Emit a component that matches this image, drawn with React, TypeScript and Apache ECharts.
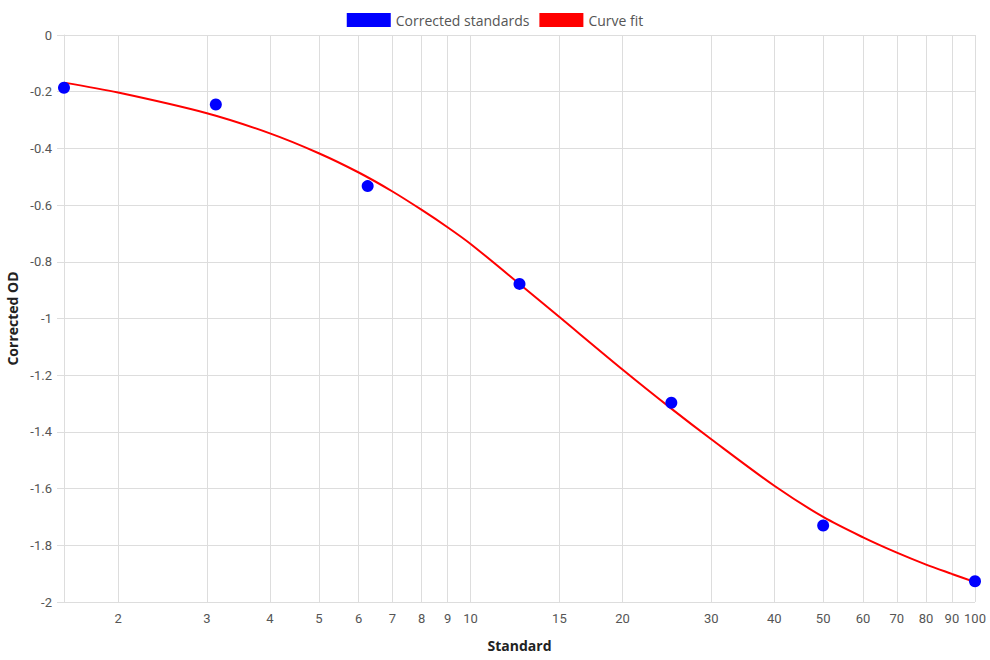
import React, { useEffect, useRef } from "react";
import * as echarts from "echarts";

const standards = [1.5625, 3.125, 6.25, 12.5, 25, 50, 100];
const correctedOD = [-0.186, -0.245, -0.533, -0.878, -1.297, -1.73, -1.927];

const fitX = [1.5625, 2, 3, 4, 5, 6, 7, 8, 9, 10, 12.5, 15, 20, 25, 30, 40, 50, 60, 70, 80, 90, 100];
const fitY = [-0.168, -0.203, -0.276, -0.347, -0.417, -0.485, -0.552, -0.617, -0.678, -0.737, -0.878, -0.995, -1.18, -1.318, -1.426, -1.59, -1.7, -1.772, -1.826, -1.868, -1.901, -1.93];

const xTicks = [2, 3, 4, 5, 6, 7, 8, 9, 10, 15, 20, 30, 40, 50, 60, 70, 80, 90, 100];

const lg = (v: number) => Math.log10(v);

export default function App() {
  const ref = useRef<HTMLDivElement>(null);
  useEffect(() => {
    if (!ref.current) return;
    const chart = echarts.init(ref.current, null, { renderer: "svg" });
    const tickVals = xTicks.map(lg);
    chart.setOption({
      animation: false,
      legend: {
        top: 8,
        left: "center",
        icon: "rect",
        itemWidth: 44,
        itemHeight: 14,
        itemGap: 10,
        data: ["Corrected standards", "Curve fit"],
        textStyle: { fontFamily: "Open Sans", fontSize: 14, color: "#555" },
      },
      grid: { left: 64, right: 15, top: 35, bottom: 58, containLabel: false, outerBoundsMode: "none" },
      xAxis: {
        type: "value",
        min: lg(standards[0]),
        max: 2,
        name: "Standard",
        nameLocation: "middle",
        nameGap: 36,
        nameTextStyle: { fontFamily: "Open Sans", fontWeight: "bold", fontSize: 14, color: "#222" },
        axisLine: { show: true, lineStyle: { color: "#ddd" } },
        axisTick: { show: false, customValues: tickVals },
        axisLabel: {
          customValues: tickVals,
          formatter: (v: number) => String(Math.round(Math.pow(10, v))),
          fontFamily: "Roboto",
          fontSize: 13,
          color: "#555",
          margin: 10,
        },
        splitLine: { show: true, lineStyle: { color: "#ddd" } },
      },
      yAxis: {
        type: "value",
        min: -2,
        max: 0,
        interval: 0.2,
        name: "Corrected OD",
        nameLocation: "middle",
        nameGap: 44,
        nameTextStyle: { fontFamily: "Open Sans", fontWeight: "bold", fontSize: 14, color: "#222" },
        axisLine: { show: true, lineStyle: { color: "#ddd" } },
        axisTick: { show: true, length: 7, lineStyle: { color: "#ddd" } },
        axisLabel: {
          formatter: (v: number) => String(Number(v.toFixed(1))),
          fontFamily: "Roboto",
          fontSize: 13,
          color: "#555",
          margin: 12,
        },
        splitLine: { show: true, lineStyle: { color: "#ddd" } },
      },
      series: [
        {
          name: "Curve fit",
          type: "line",
          data: fitX.map((x, i) => [lg(x), fitY[i]]),
          smooth: 0.3,
          showSymbol: false,
          symbol: "none",
          lineStyle: { color: "#ff0000", width: 2 },
          itemStyle: { color: "#ff0000" },
          z: 2,
        },
        {
          name: "Corrected standards",
          type: "scatter",
          data: standards.map((x, i) => [lg(x), correctedOD[i]]),
          symbolSize: 12,
          itemStyle: { color: "#0000ff", opacity: 1 },
          z: 3,
        },
      ],
    });
    return () => chart.dispose();
  }, []);
  return <div ref={ref} style={{ width: 990, height: 660, position: "absolute", left: 0, top: 0 }} />;
}
